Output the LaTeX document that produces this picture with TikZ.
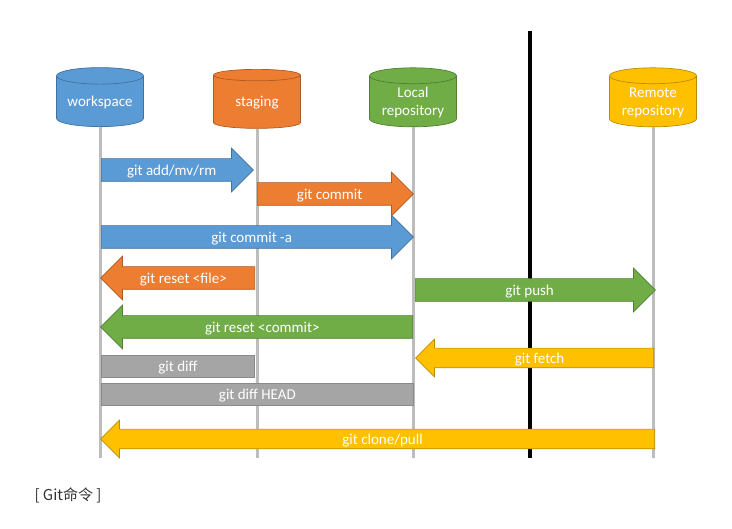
\documentclass[tikz,border=0pt]{standalone}
\usepackage{fontspec}
\setmainfont{Carlito}
\newfontfamily\cjk{Noto Sans CJK SC}
\usetikzlibrary{shapes.geometric,shapes.arrows,positioning,calc}
\definecolor{wsblue}{HTML}{5B9BD5}
\definecolor{wsblueline}{HTML}{41719C}
\definecolor{storange}{HTML}{ED7D31}
\definecolor{storangeline}{HTML}{AE5A21}
\definecolor{lcgreen}{HTML}{70AD47}
\definecolor{lcgreenline}{HTML}{507E32}
\definecolor{rmyellow}{HTML}{FFC000}
\definecolor{rmyellowline}{HTML}{BC8C00}
\definecolor{diffgray}{HTML}{A5A5A5}
\definecolor{diffgrayline}{HTML}{8A8A8A}
\definecolor{linegray}{HTML}{BDBDBD}
\tikzset{
store/.style = {draw, cylinder, shape border rotate=90, aspect=0.23, minimum width=87pt, minimum height=59pt, text=white, align=center, font=\fontsize{15}{18}\selectfont, line width=0.7pt},
lifeline/.style = {draw=linegray, line width=3pt},
divider/.style = {draw=black, line width=4pt},
cmd/.style = {draw, single arrow, anchor=tail, single arrow head extend=10.5pt, text=white, font=\fontsize{15}{18}\selectfont, inner ysep=5pt, inner xsep=2pt, text height=12pt, text depth=0pt, line width=0.7pt},
cmdleft/.style = {cmd, shape border rotate=180},
thincmd/.style = {inner ysep=3.5pt, single arrow head extend=9pt},
diffbox/.style = {draw, rectangle, anchor=west, fill=diffgray, draw=diffgrayline, text=white, font=\fontsize{15}{18}\selectfont, minimum height=22pt, inner ysep=0pt, text height=12pt, text depth=0pt, line width=0.7pt}
}
\begin{document}
\begin{tikzpicture}[x=1pt, y=-1pt]
    \useasboundingbox (0,0) rectangle (732,529);
    % stores
    \node [store, fill=wsblue, draw=wsblueline] (ws) at (100,103) {workspace};
    \node [store, fill=storange, draw=storangeline] (st) at (257,103) {staging};
    \node [store, fill=lcgreen, draw=lcgreenline] (lc) at (413,103) {Local\\repository};
    \node [store, fill=rmyellow, draw=rmyellowline] (rm) at (653,103) {Remote\\repository};
    \coordinate (base) at (0,458);
    \coordinate (divtop) at (530,31);
    \coordinate (divbot) at (530,458);
    \draw [lifeline] (ws.south) -- (ws.south |- base);
    \draw [lifeline] (st.south) -- (st.south |- base);
    \draw [lifeline] (lc.south) -- (lc.south |- base);
    \draw [lifeline] (rm.south) -- (rm.south |- base);
    \draw [divider] (divtop) -- (divbot);
    % commands
    \node [cmd, fill=wsblue, draw=wsblueline, minimum height=152pt] (add) at (101,170) {git add/mv/rm};
    \node [cmd, fill=storange, draw=storangeline, minimum height=156pt] (commit) at (257,194) {git commit};
    \node [cmd, fill=wsblue, draw=wsblueline, minimum height=312pt] (commita) at (101,237) {git commit -a};
    \node [cmdleft, fill=storange, draw=storangeline, minimum height=154pt] (resetfile) at (255,278) {git reset <file>};
    \node [cmd, fill=lcgreen, draw=lcgreenline, minimum height=240pt] (push) at (415,290) {git push};
    \node [cmdleft, fill=lcgreen, draw=lcgreenline, minimum height=312pt] (resetcommit) at (413,327) {git reset <commit>};
    \node [cmdleft, thincmd, fill=rmyellow, draw=rmyellowline, minimum height=238pt] (fetch) at (654,358) {git fetch};
    \node [diffbox, minimum width=153pt] (diff) at (101,366) {git diff};
    \node [diffbox, minimum width=312pt] (diffhead) at (101,394) {git diff HEAD};
    \node [cmdleft, thincmd, fill=rmyellow, draw=rmyellowline, minimum height=554pt] (clone) at (655,439) {git clone/pull};
    % caption
    \node [anchor=west, font=\cjk\fontsize{15}{18}\selectfont, text=black!80] (caption) at (31,495) {[ Git命令 ]};
\end{tikzpicture}
\end{document}
